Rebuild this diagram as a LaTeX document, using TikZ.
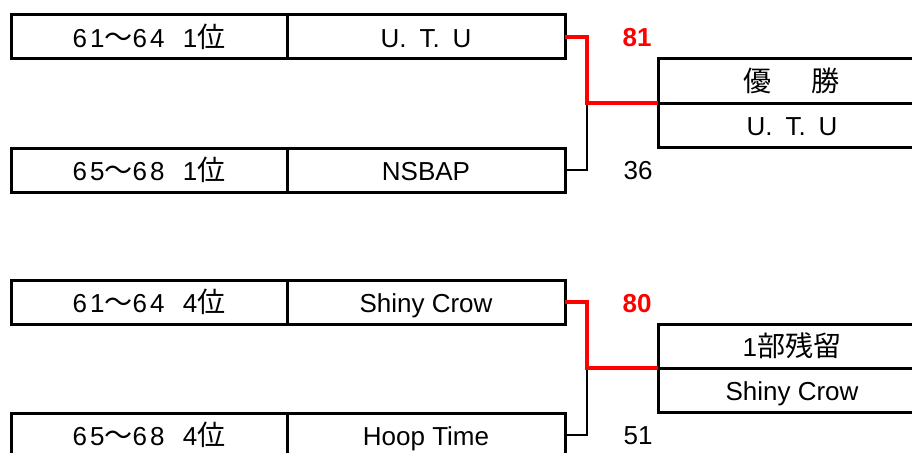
\documentclass[tikz,border=0pt]{standalone}
\usepackage{fontspec}
\setmainfont{Liberation Sans}
\newfontfamily\cjk[Scale=1.08]{Noto Sans CJK JP}
\newcommand\rk[3]{{\addfontfeature{LetterSpace=12}#1}{\cjk ～}{\addfontfeature{LetterSpace=12}#2}\hspace{0.7em}#3{\cjk 位}}
\newcommand\utu{U.\hspace{13pt}T.\hspace{13pt}U}
\begin{document}
\begin{tikzpicture}[x=1pt,y=-1pt,
  cell/.style={draw=black,line width=3pt,inner sep=0pt,outer sep=0pt,
    minimum height=44pt,text height=21pt,text depth=0pt,
    font=\fontsize{26}{30}\selectfont},
  rankcell/.style={cell,minimum width=276pt},
  teamcell/.style={cell,minimum width=278pt},
  rescell/.style={cell,minimum width=268pt},
  winline/.style={draw=red,line width=4.8pt,line join=miter},
  loseline/.style={draw=black,line width=1.6pt},
  winscore/.style={text=red,font=\fontsize{26}{30}\selectfont\bfseries},
  losescore/.style={text=black,font=\fontsize{26}{30}\selectfont}]
\useasboundingbox (0,0) rectangle (912,452);
\clip (0,0) rectangle (912,452);
% first match
\node[rankcell] (rank1) at (149,37) {\rk{61}{64}{1}};
\node[teamcell] (team1) at (426,37) {\utu};
\node[rankcell] (rank2) at (149,170) {\rk{65}{68}{1}};
\node[teamcell] (team2) at (426,170) {NSBAP};
\node[rescell] (res1a) at (792,81) {{\cjk 優}\hspace{40pt}{\cjk 勝}};
\node[rescell] (res1b) at (792,125) {\utu};
\coordinate (j1) at (587,103);
\draw[loseline] (team2.east) -| (j1);
\draw[winline] (team1.east) -| (j1) -- (res1a.south west);
\node[winscore] (s1) at (637,38) {81};
\node[losescore] (s2) at (638,171) {36};
% second match
\node[rankcell] (rank3) at (149,302) {\rk{61}{64}{4}};
\node[teamcell] (team3) at (426,302) {Shiny Crow};
\node[rankcell] (rank4) at (149,435) {\rk{65}{68}{4}};
\node[teamcell] (team4) at (426,435) {Hoop Time};
\node[rescell] (res2a) at (792,346) {1{\cjk 部残留}};
\node[rescell] (res2b) at (792,390) {Shiny Crow};
\coordinate (j2) at (587,368);
\draw[loseline] (team4.east) -| (j2);
\draw[winline] (team3.east) -| (j2) -- (res2a.south west);
\node[winscore] (s3) at (637,304) {80};
\node[losescore] (s4) at (638,436) {51};
\end{tikzpicture}
\end{document}
